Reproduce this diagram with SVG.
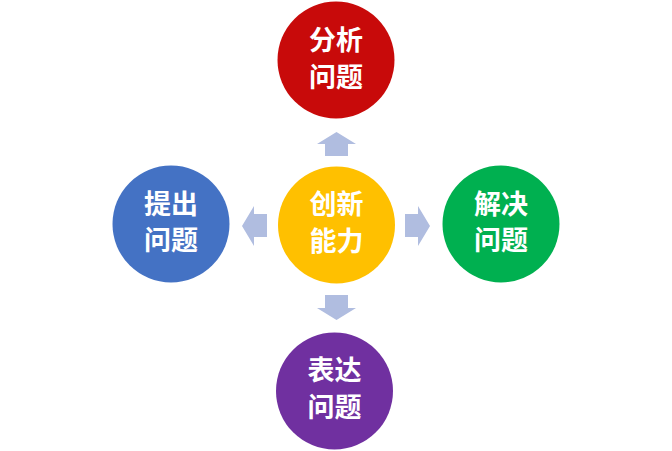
<svg xmlns="http://www.w3.org/2000/svg" width="672" height="451" viewBox="0 0 672 451">
<style>
.lbl{font-family:"Noto Sans CJK SC","Noto Sans",sans-serif;font-weight:bold;font-size:27px;fill:#ffffff;text-anchor:middle}
.arr{fill:#B0BDE0}
</style>
<rect width="672" height="451" fill="#ffffff"/>
<g id="connectors">
<polygon class="arr" points="336.5,132 356,144 348,144 348,156 325,156 325,144 317,144"/>
<polygon class="arr" points="336.5,320 356,308 348,308 348,295 325,295 325,308 317,308"/>
<polygon class="arr" points="242,226 254,206 254,214 267,214 267,237 254,237 254,246"/>
<polygon class="arr" points="430,226 418,206 418,214 405,214 405,237 418,237 418,246"/>
</g>
<g id="center">
<circle cx="336.5" cy="225" r="58.5" fill="#FFC000"/>
<text class="lbl" x="336.5" y="213.5">创新</text>
<text class="lbl" x="336.5" y="250.5">能力</text>
</g>
<g id="top">
<circle cx="336" cy="60" r="58.5" fill="#C80A0A"/>
<text class="lbl" x="336" y="50">分析</text>
<text class="lbl" x="336" y="86.5">问题</text>
</g>
<g id="left">
<circle cx="171" cy="224" r="58.5" fill="#4472C4"/>
<text class="lbl" x="171" y="214">提出</text>
<text class="lbl" x="171" y="250">问题</text>
</g>
<g id="right">
<circle cx="501" cy="224" r="58.5" fill="#00B050"/>
<text class="lbl" x="501" y="214">解决</text>
<text class="lbl" x="501" y="250">问题</text>
</g>
<g id="bottom">
<circle cx="334.5" cy="391" r="58.5" fill="#7030A0"/>
<text class="lbl" x="334.5" y="380">表达</text>
<text class="lbl" x="334.5" y="416.5">问题</text>
</g>
</svg>
